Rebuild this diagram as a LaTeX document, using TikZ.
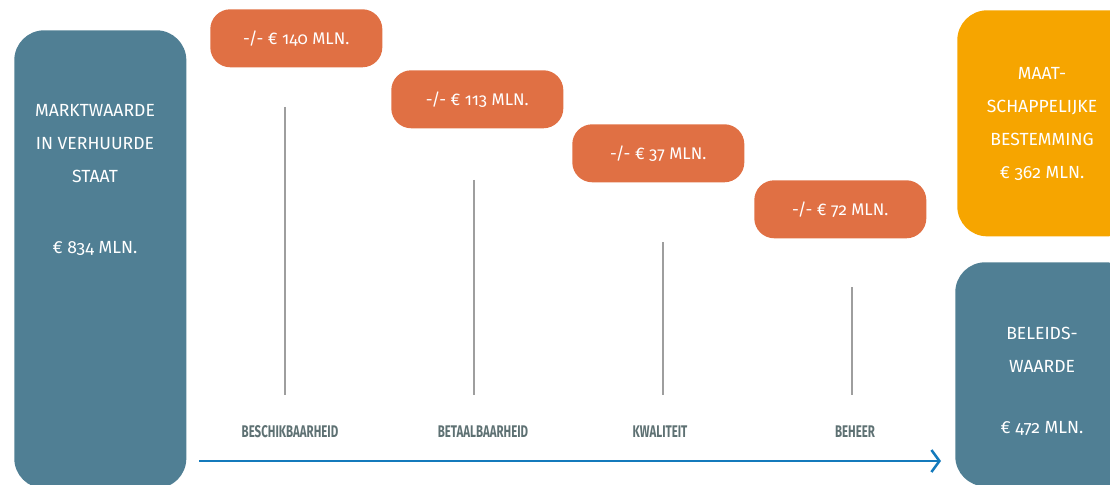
\documentclass[tikz,border=0pt]{standalone}
\usepackage{fontspec}
\setmainfont{Fira Sans}[Numbers=OldStyle]
\newfontfamily\capfont{Fira Sans}[FakeStretch=0.68]
\usetikzlibrary{arrows.meta,positioning}
\definecolor{wbslate}{RGB}{80,127,148}
\definecolor{wborange}{RGB}{224,112,68}
\definecolor{wbgold}{RGB}{246,165,0}
\definecolor{wbgrey}{RGB}{94,113,115}
\definecolor{wbblue}{RGB}{20,122,188}
\tikzset{
  vblk/.style={rectangle, rounded corners=0.75cm, draw=none, anchor=north west, inner sep=0pt},
  oblk/.style={rectangle, rounded corners=0.5cm, draw=none, fill=wborange, text=white,
               font=\fontsize{12}{14}\selectfont, minimum width=4.3cm, minimum height=1.45cm,
               anchor=north west, inner sep=0pt},
  vtxt/.style={text=white, align=center, font=\fontsize{12.5}{23.4}\selectfont},
  stap/.style={text=wbgrey, font=\capfont\bfseries\fontsize{12}{14}\selectfont},
  vlijn/.style={black!38, line width=0.8pt},
  parr/.style={-{Straight Barb[length=2mm,width=5.5mm]}, line width=1.8pt, wbblue},
}

\begin{document}
\begin{tikzpicture}[x=0.025cm,y=-0.025cm]
            \clip (0,0) rectangle (1110,485);
            \node[vblk,fill=wbslate,minimum width=4.3cm,minimum height=11.45cm](markt) at (14,30){};
            \node[vtxt](markttxt) at (95,180){MARKTWAARDE\\IN VERHUURDE\\STAAT\\[27pt]€ 834 MLN.};
            \node[oblk](v1) at (210,9){-/- € 140 MLN.};
            \node[oblk](v2) at (391,70){-/- € 113 MLN.};
            \node[oblk](v3) at (572,124){-/- € 37 MLN.};
            \node[oblk](v4) at (754,180){-/- € 72 MLN.};
            \foreach \x/\t in {285/107,474/180,663/242,852/287} \draw[vlijn] (\x,\t) -- (\x,395);
            \node[stap](s1) at (290,432){BESCHIKBAARHEID};
            \node[stap](s2) at (483,432){BETAALBAARHEID};
            \node[stap](s3) at (660,432){KWALITEIT};
            \node[stap](s4) at (855,432){BEHEER};
            \coordinate (pa) at (199,461); \coordinate (pb) at (941,461);
            \draw[parr](pa)--(pb);
            \node[vblk,fill=wbgold,minimum width=4.5cm,minimum height=5.65cm](maat) at (957,10){};
            \node[vtxt](maattxt) at (1042,124){MAAT-\\SCHAPPELIJKE\\BESTEMMING\\€ 362 MLN.};
            \node[vblk,fill=wbslate,minimum width=4.5cm,minimum height=5.6cm](beleid) at (955,262){};
            \node[vtxt](beleidtxt) at (1042,381){BELEIDS-\\WAARDE\\[20pt]€ 472 MLN.};
        \end{tikzpicture}
\end{document}
